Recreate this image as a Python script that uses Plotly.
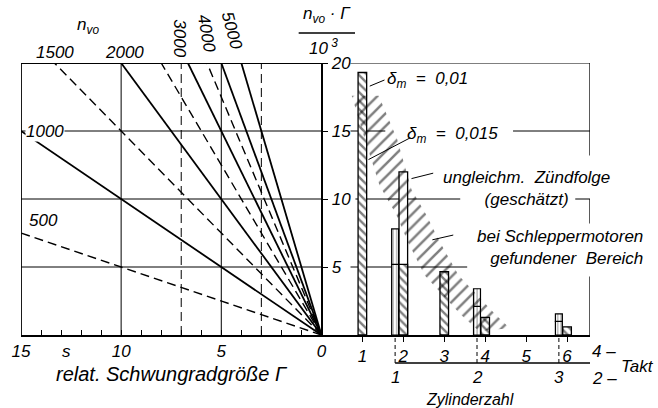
import plotly.graph_objects as go

# ---------------- data ----------------
# left nomogram: lines n_vo * Gamma / 10^3
n_vo_solid = [1000, 2000, 3000, 4000, 5000]
n_vo_dashed = [500, 1500, 2500, 3500]
gamma_limit = 15
y_limit = 20

gamma_labelled = [0, 5, 10, 15]
grid_gamma_solid = [10, 5]
grid_gamma_dashed = [7, 3]
grid_y = [5, 10, 15]

# right part: required n_vo*Gamma/10^3 per cylinder count
takt4_cyl = [1, 2, 3, 4, 5, 6]
four_stroke_cyl = [1, 2, 3, 4, 6]
four_stroke_value = [19.3, 5.2, 4.65, 1.3, 0.6]
uneven_cyl = [2]
uneven_value = [12.0]            # ungleichm. Zündfolge (geschätzt)
two_stroke_cyl = [1, 2, 3]
two_stroke_low = [5.2, 2.1, 1.0]     # delta_m = 0.015
two_stroke_high = [7.8, 3.4, 1.55]   # delta_m = 0.01

# range found for tractor engines (hatched band)
band_left_t = [0.74, 1.02, 1.42, 1.82, 2.12, 2.52, 3.40, 3.85]
band_left_y = [17.6, 14.8, 11.0, 8.9, 6.8, 4.4, 1.5, 0.3]
band_right_t = [1.40, 1.85, 2.20, 2.55, 2.90, 3.35, 4.25, 4.60]
band_right_y = [17.6, 14.4, 10.7, 8.9, 6.8, 4.4, 1.5, 0.5]

T_MAX = 6.56
K = "black"
XD = [0.0, 0.528]
X2D = [0.528, 1.0]
Y0 = 0.0933
YD = [Y0, 1.0]


def pxl(g):   # left-axis value -> paper x
    return XD[0] + (gamma_limit - g) / gamma_limit * (XD[1] - XD[0])


def pxr(t):   # right-axis value -> paper x
    return X2D[0] + t / T_MAX * (X2D[1] - X2D[0])


def py(v):    # y value -> paper y
    return YD[0] + v / y_limit * (YD[1] - YD[0])


fig = go.Figure()


def add_nline(n, dash, width):
    gmax = min(gamma_limit, y_limit * 1000.0 / n)
    fig.add_trace(go.Scatter(x=[0, gmax], y=[0, n * gmax / 1000.0], mode="lines",
                             line=dict(color=K, width=width, dash=dash),
                             xaxis="x", yaxis="y", hoverinfo="skip"))


for n in n_vo_solid:
    add_nline(n, "solid", 1.8)
for n in n_vo_dashed:
    add_nline(n, "9px,5px", 1.4)

# ---- bars ----
two_x = [2 * k - 0.2 for k in two_stroke_cyl]
fig.add_trace(go.Bar(x=uneven_cyl, y=uneven_value, width=0.21, xaxis="x2", yaxis="y",
                     marker=dict(color="white", line=dict(color=K, width=1.3))))
fig.add_trace(go.Bar(x=four_stroke_cyl, y=four_stroke_value, width=0.21, xaxis="x2", yaxis="y",
                     marker=dict(color="white", line=dict(color=K, width=1.3),
                                 pattern=dict(shape="\\", fgcolor=K, bgcolor="white",
                                              size=6, solidity=0.4))))
fig.add_trace(go.Bar(x=two_x, y=two_stroke_low, width=0.17, xaxis="x2", yaxis="y",
                     marker=dict(color="white", line=dict(color=K, width=1.2),
                                 pattern=dict(shape="|", fgcolor=K, bgcolor="white",
                                              size=3.5, solidity=0.25))))
fig.add_trace(go.Bar(x=two_x, y=[h - l for h, l in zip(two_stroke_high, two_stroke_low)],
                     base=two_stroke_low, width=0.17, xaxis="x2", yaxis="y",
                     marker=dict(color="white", line=dict(color=K, width=1.2),
                                 pattern=dict(shape="|", fgcolor=K, bgcolor="white",
                                              size=3.5, solidity=0.25))))

# ---- hatched band ----
bt = band_left_t + band_right_t[::-1] + [band_left_t[0]]
by = band_left_y + band_right_y[::-1] + [band_left_y[0]]
fig.add_trace(go.Scatter(x=bt, y=by, mode="lines", fill="toself", xaxis="x2", yaxis="y",
                         line=dict(width=0, color="rgba(0,0,0,0)"),
                         fillcolor="rgba(0,0,0,0)",
                         fillpattern=dict(shape="/", fgcolor=K, bgcolor="rgba(0,0,0,0)",
                                          size=9, solidity=0.28),
                         hoverinfo="skip"))

shapes = []


def seg(xref, x0, x1, y0, y1, width=1.0, dash="solid", yref="y", layer="below"):
    shapes.append(dict(type="line", xref=xref, yref=yref, x0=x0, x1=x1, y0=y0, y1=y1,
                       line=dict(color=K, width=width, dash=dash), layer=layer))


# left panel frame and grid
seg("x", gamma_limit, gamma_limit, 0, y_limit, 1.8)
seg("x", gamma_limit, 0, y_limit, y_limit, 1.8)
for yv in grid_y:
    seg("x", gamma_limit, 0, yv, yv, 1.0)
for g in grid_gamma_solid:
    seg("x", g, g, 0, y_limit, 1.0)
for g in grid_gamma_dashed:
    seg("x", g, g, 0, y_limit, 1.0, "9px,5px")

# right panel grid pieces
seg("x2", 0.71, T_MAX, 20, 20, 1.0)
seg("x2", 0.71, 1.56, 15, 15, 1.0)
seg("x2", 4.68, T_MAX, 15, 15, 1.0)
seg("x2", 0.83, 3.39, 10, 10, 1.0)
seg("x2", 6.2, T_MAX, 10, 10, 1.0)
seg("x2", 0.71, 3.56, 5, 5, 1.0)
seg("x2", T_MAX, T_MAX, 20, 13.2, 1.3)
seg("x2", T_MAX, T_MAX, 10, 8.2, 1.3)
seg("x2", T_MAX, T_MAX, 4.3, 0, 1.3)

# leader lines
seg("x2", 1.54, 1.18, 18.75, 18.3, 1.0, layer="above")
seg("x2", 2.17, 1.15, 14.5, 12.9, 1.0, layer="above")
seg("x2", 2.73, 2.20, 11.9, 11.5, 1.0, layer="above")
seg("x2", 3.22, 2.71, 7.35, 7.0, 1.0, layer="above")

# lower (2-stroke) cylinder axis
seg("x2", two_x[0], T_MAX, 0, 0, 1.5, yref="paper")
for xv in two_x:
    seg("x2", xv, xv, 0, Y0, 1.0, "4px,3px", yref="paper")

# fraction bar of y-axis title
shapes.append(dict(type="line", xref="paper", yref="paper", x0=0.488, x1=0.587,
                   y0=1.10, y1=1.10, line=dict(color=K, width=1.3)))

ann = []


def txt(text, x, y, **kw):
    d = dict(text=text, x=x, y=y, xref="paper", yref="paper", showarrow=False,
             xanchor="center", yanchor="middle")
    d.update(kw)
    ann.append(d)


# top labels
txt("n<sub>vo</sub>", 0.117, 1.125)
txt("1500", pxl(13.3), py(20.8))
txt("2000", pxl(9.84), py(20.8))
txt("3000", pxl(7.1), py(21.8), textangle=90)
txt("4000", pxl(5.72), py(22.2), textangle=80)
txt("5000", pxl(4.47), py(22.4), textangle=75)
txt("1000", pxl(13.8), py(15), bgcolor="white", borderpad=0)
txt("500", pxl(13.9), py(8.4))
txt("n<sub>vo</sub> · Γ", 0.537, 1.16)
txt("10<sup> 3</sup>", 0.531, 1.055)
txt("s", pxl(12.75), 0.037)

# right labels
txt("δ<sub>m</sub>  =  0,01", pxr(1.56), py(18.75), xanchor="left")
txt("δ<sub>m</sub>  =  0,015", pxr(2.05), py(14.7), xanchor="left")
txt("ungleichm.  Zündfolge<br>(geschätzt)", pxr(5.02), py(10.8))
txt("bei Schleppermotoren<br>gefundener  Bereich", pxr(7.9), py(6.4),
    xanchor="right", align="right")

for k, xv in zip(two_stroke_cyl, two_x):
    txt(str(k), pxr(xv), -0.047)
txt("Zylinderzahl", pxr(3.63), -0.123, font=dict(size=16))
txt("4 –", 1.025, 0.037)
txt("2 –", 1.025, -0.052)
txt("Takt", 1.083, -0.01)

fig.update_layout(
    width=658, height=408,
    margin=dict(l=18, r=68, t=63, b=45),
    plot_bgcolor="white", paper_bgcolor="white",
    showlegend=False, barmode="overlay",
    font=dict(family="Liberation Sans", size=17, color=K, style="italic"),
    shapes=shapes, annotations=ann,
    xaxis=dict(domain=XD, range=[gamma_limit, 0], anchor="y",
               showline=True, linecolor=K, linewidth=2,
               ticks="inside", ticklen=5, tickwidth=1.3, tickcolor=K,
               tickvals=gamma_labelled, ticktext=[str(g) for g in gamma_labelled],
               minor=dict(ticks="inside", ticklen=5, tickwidth=1.3, tickcolor=K,
                          dtick=1, showgrid=False),
               showgrid=False, zeroline=False,
               title=dict(text="relat. Schwungradgröße Γ", standoff=7)),
    xaxis2=dict(domain=X2D, range=[0, T_MAX], anchor="y",
                showline=True, linecolor=K, linewidth=2,
                ticks="outside", ticklen=5, tickwidth=1.3, tickcolor=K,
                tickvals=takt4_cyl, ticktext=[str(c) for c in takt4_cyl],
                showgrid=False, zeroline=False),
    yaxis=dict(domain=YD, range=[0, y_limit], anchor="x", side="right",
               showline=True, linecolor=K, linewidth=2,
               ticks="outside", ticklen=5, tickwidth=1.3, tickcolor=K,
               tickvals=[5, 10, 15, 20], showgrid=False, zeroline=False),
)

fig.write_html("out.html", config={"displayModeBar": False},
               post_script="document.body.style.margin='0';document.body.style.overflow='hidden';")
